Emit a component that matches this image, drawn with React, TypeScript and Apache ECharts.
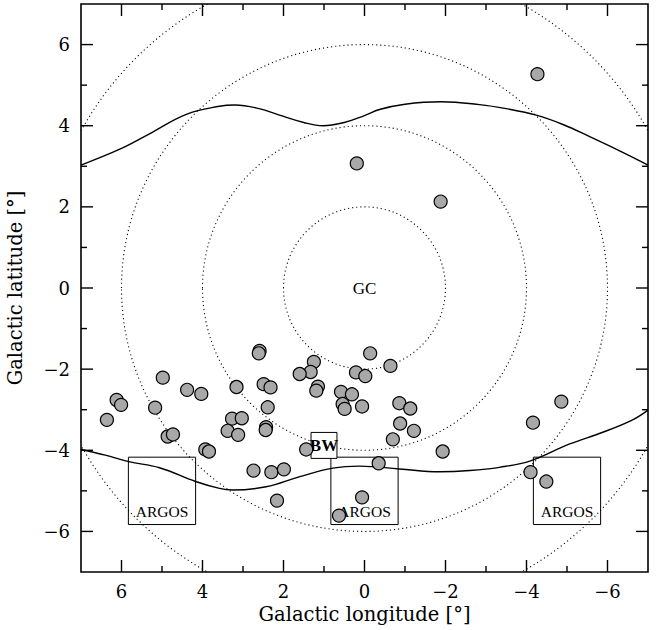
import React, { useEffect, useRef } from "react";
import * as echarts from "echarts";

// Sources (galactic longitude, latitude) in degrees
const sourceLon = [
  -4.27, 0.19, -1.88, 4.98, 4.38, 4.03, 6.12, 6.01, 5.17, 6.36,
  3.16, 3.27, 3.03, 3.38, 3.12, 4.86, 4.73, 3.93, 3.84, 2.59,
  2.61, -0.14, 1.25, 1.33, 1.6, 0.21, -0.02, 2.49, 2.32, 1.15,
  1.19, 0.58, 0.31, 0.54, 0.49, 0.06, 2.39, 2.43, 2.44, 1.44,
  -0.64, -0.86, -1.13, -0.88, -1.22, -0.7, -1.93, 2.74, 2.3, 1.99,
  -0.35, 2.16, 0.06, 0.63, -4.86, -4.16, -4.1, -4.49,
];
const sourceLat = [
  5.27, 3.07, 2.13, -2.21, -2.51, -2.61, -2.76, -2.88, -2.95, -3.25,
  -2.44, -3.22, -3.21, -3.52, -3.62, -3.66, -3.61, -3.98, -4.03, -1.55,
  -1.61, -1.61, -1.82, -2.07, -2.12, -2.08, -2.17, -2.37, -2.45, -2.43,
  -2.53, -2.56, -2.62, -2.86, -2.98, -2.92, -2.94, -3.43, -3.5, -3.98,
  -1.92, -2.84, -2.97, -3.34, -3.52, -3.73, -4.03, -4.5, -4.54, -4.47,
  -4.32, -5.24, -5.16, -5.61, -2.8, -3.32, -4.54, -4.77,
];

// Upper boundary curve
const upperLon = [7, 6, 5.31, 4.4, 3.58, 3.2, 2.6, 2.1, 1.5, 1.03, 0.5, 0, -0.37, -1.0, -1.9, -2.84, -3.5, -4.24, -4.9, -5.56, -6.3, -7];
const upperLat = [3.03, 3.44, 3.8, 4.28, 4.48, 4.51, 4.42, 4.26, 4.08, 4.0, 4.08, 4.25, 4.4, 4.53, 4.59, 4.52, 4.42, 4.26, 4.03, 3.73, 3.38, 3.03];

// Lower boundary curve
const lowerLon = [7, 6.4, 5.82, 5.06, 4.17, 3.58, 3.25, 2.43, 1.6, 0.78, 0.12, -0.86, -1.85, -2.6, -3.33, -4.1, -5.05, -5.9, -6.62, -7];
const lowerLat = [-3.98, -4.12, -4.28, -4.43, -4.77, -4.94, -4.98, -4.9, -4.65, -4.44, -4.39, -4.46, -4.53, -4.5, -4.42, -4.26, -3.85, -3.55, -3.25, -3.01];

// Dotted rings around the Galactic centre (radius in degrees)
const ringRadii = [2, 4, 6, 8];

// Fields: [lonMin, lonMax, latMin, latMax]
const argosFields = [
  [4.17, 5.83, -5.83, -4.17],
  [-0.83, 0.83, -5.83, -4.17],
  [-5.83, -4.17, -5.83, -4.17],
];
const argosLabels = ["ARGOS", "ARGOS", "ARGOS"];
const bwField = [[0.68, 1.32, -4.2, -3.56]];
const bwLabels = ["BW"];
const centreLabel = ["GC"];

const majorTicks = [-6, -4, -2, 0, 2, 4, 6];
const minorTicks = [-5, -3, -1, 1, 3, 5];

const FONT = "DejaVu Serif";
const MARK_FONT = "Liberation Serif";

function fmt(v: number) {
  return v < 0 ? "\u2212" + String(-v) : String(v);
}

export default function App() {
  const ref = useRef<HTMLDivElement>(null);
  useEffect(() => {
    if (!ref.current) return;
    const chart = echarts.init(ref.current, null, { renderer: "svg" });

    const fieldRender = (labels: string[], filled: boolean, fontSize: number, bold: boolean, textAtBottom: boolean) =>
      (params: any, api: any) => {
        const x1 = api.value(0), x2 = api.value(1), y1 = api.value(2), y2 = api.value(3);
        const p1 = api.coord([x1, y2]);
        const p2 = api.coord([x2, y1]);
        const left = Math.min(p1[0], p2[0]);
        const right = Math.max(p1[0], p2[0]);
        const top = Math.min(p1[1], p2[1]);
        const bottom = Math.max(p1[1], p2[1]);
        return {
          type: "group",
          children: [
            {
              type: "rect",
              shape: { x: left, y: top, width: right - left, height: bottom - top },
              style: { fill: filled ? "#fff" : "none", stroke: "#000", lineWidth: 1 },
            },
            {
              type: "text",
              x: (left + right) / 2,
              y: textAtBottom ? bottom - 13 : (top + bottom) / 2,
              style: {
                text: labels[params.dataIndex],
                fontFamily: MARK_FONT,
                fontSize,
                fontWeight: bold ? "bold" : "normal",
                fill: "#000",
                align: "center",
                verticalAlign: "middle",
              },
            },
          ],
        };
      };

    // tick data: [value, isMajor]
    const tickData = [
      ...majorTicks.map((v) => [v, 1]),
      ...minorTicks.map((v) => [v, 0]),
    ];

    chart.setOption({
      animation: false,
      backgroundColor: "#fff",
      grid: { left: 81, right: 17, top: 4, bottom: 58, containLabel: false, outerBoundsMode: "none", show: true, borderColor: "#000", borderWidth: 1.6, backgroundColor: "transparent" },
      xAxis: {
        type: "value",
        min: -7,
        max: 7,
        inverse: true,
        position: "bottom",
        axisLine: { show: false, onZero: false },
        axisTick: { show: false },
        axisLabel: {
          show: true,
          customValues: majorTicks,
          formatter: (v: number) => fmt(v),
          margin: 10,
          fontFamily: FONT,
          fontSize: 18,
          color: "#000",
        },
        splitLine: { show: false },
        name: "Galactic longitude [\u00b0]",
        nameLocation: "middle",
        nameGap: 27,
        nameTextStyle: { fontFamily: FONT, fontSize: 19.5, color: "#000", verticalAlign: "top" },
      },
      yAxis: {
        type: "value",
        min: -7,
        max: 7,
        position: "left",
        axisLine: { show: false, onZero: false },
        axisTick: { show: false },
        axisLabel: {
          show: true,
          customValues: majorTicks,
          formatter: (v: number) => fmt(v),
          margin: 11,
          fontFamily: FONT,
          fontSize: 18,
          color: "#000",
        },
        splitLine: { show: false },
        name: "Galactic latitude [\u00b0]",
        nameLocation: "middle",
        nameGap: 56,
        nameTextStyle: { fontFamily: FONT, fontSize: 19.5, color: "#000" },
      },
      series: [
        {
          type: "custom",
          name: "rings",
          clip: true,
          z: 1,
          silent: true,
          data: ringRadii.map((r) => [0, 0, r]),
          encode: { x: 0, y: 1 },
          renderItem: (params: any, api: any) => {
            const r = api.value(2);
            const c = api.coord([api.value(0), api.value(1)]);
            const s = api.size([r, r]);
            return {
              type: "ellipse",
              shape: { cx: c[0], cy: c[1], rx: s[0], ry: s[1] },
              style: { fill: "none", stroke: "#000", lineWidth: 1.1, lineDash: [1.1, 3] },
            };
          },
        },
        {
          type: "custom",
          name: "ticks",
          clip: false,
          z: 5,
          silent: true,
          data: tickData,
          encode: { x: 0, y: 0 },
          renderItem: (params: any, api: any) => {
            const v = api.value(0);
            const len = api.value(1) ? 12 : 6;
            const cs = params.coordSys;
            const px = api.coord([v, 0])[0];
            const py = api.coord([0, v])[1];
            const top = cs.y, bottom = cs.y + cs.height, left = cs.x, right = cs.x + cs.width;
            const st = { stroke: "#000", lineWidth: 1.4 };
            return {
              type: "group",
              children: [
                { type: "line", shape: { x1: px, y1: bottom, x2: px, y2: bottom - len }, style: st },
                { type: "line", shape: { x1: px, y1: top, x2: px, y2: top + len }, style: st },
                { type: "line", shape: { x1: left, y1: py, x2: left + len, y2: py }, style: st },
                { type: "line", shape: { x1: right, y1: py, x2: right - len, y2: py }, style: st },
              ],
            };
          },
        },
        {
          type: "line",
          name: "upper",
          data: upperLon.map((x, i) => [x, upperLat[i]]),
          smooth: 0.4,
          symbol: "none",
          z: 2,
          lineStyle: { color: "#000", width: 1.4 },
        },
        {
          type: "line",
          name: "lower",
          data: lowerLon.map((x, i) => [x, lowerLat[i]]),
          smooth: 0.4,
          symbol: "none",
          z: 2,
          lineStyle: { color: "#000", width: 1.4 },
        },
        {
          type: "custom",
          name: "ARGOS",
          z: 3,
          silent: true,
          data: argosFields,
          encode: { x: [0, 1], y: [2, 3] },
          renderItem: fieldRender(argosLabels, false, 15.5, false, true),
        },
        {
          type: "custom",
          name: "BW",
          z: 3,
          silent: true,
          data: bwField,
          encode: { x: [0, 1], y: [2, 3] },
          renderItem: fieldRender(bwLabels, true, 17, true, false),
        },
        {
          type: "custom",
          name: "GC",
          z: 3,
          silent: true,
          data: [[0, 0]],
          encode: { x: 0, y: 1 },
          renderItem: (params: any, api: any) => {
            const c = api.coord([api.value(0), api.value(1)]);
            return {
              type: "text",
              x: c[0],
              y: c[1],
              style: {
                text: centreLabel[params.dataIndex],
                fontFamily: MARK_FONT,
                fontSize: 17,
                fill: "#000",
                align: "center",
                verticalAlign: "middle",
              },
            };
          },
        },
        {
          type: "scatter",
          name: "sources",
          z: 4,
          symbol: "circle",
          symbolSize: 13,
          data: sourceLon.map((x, i) => [x, sourceLat[i]]),
          itemStyle: { color: "#a8a8a8", borderColor: "#000", borderWidth: 1.2, opacity: 1 },
        },
      ],
    });
    return () => chart.dispose();
  }, []);
  return (
    <div
      ref={ref}
      style={{ position: "fixed", left: 0, top: 0, width: 665, height: 630, background: "#fff" }}
    />
  );
}
